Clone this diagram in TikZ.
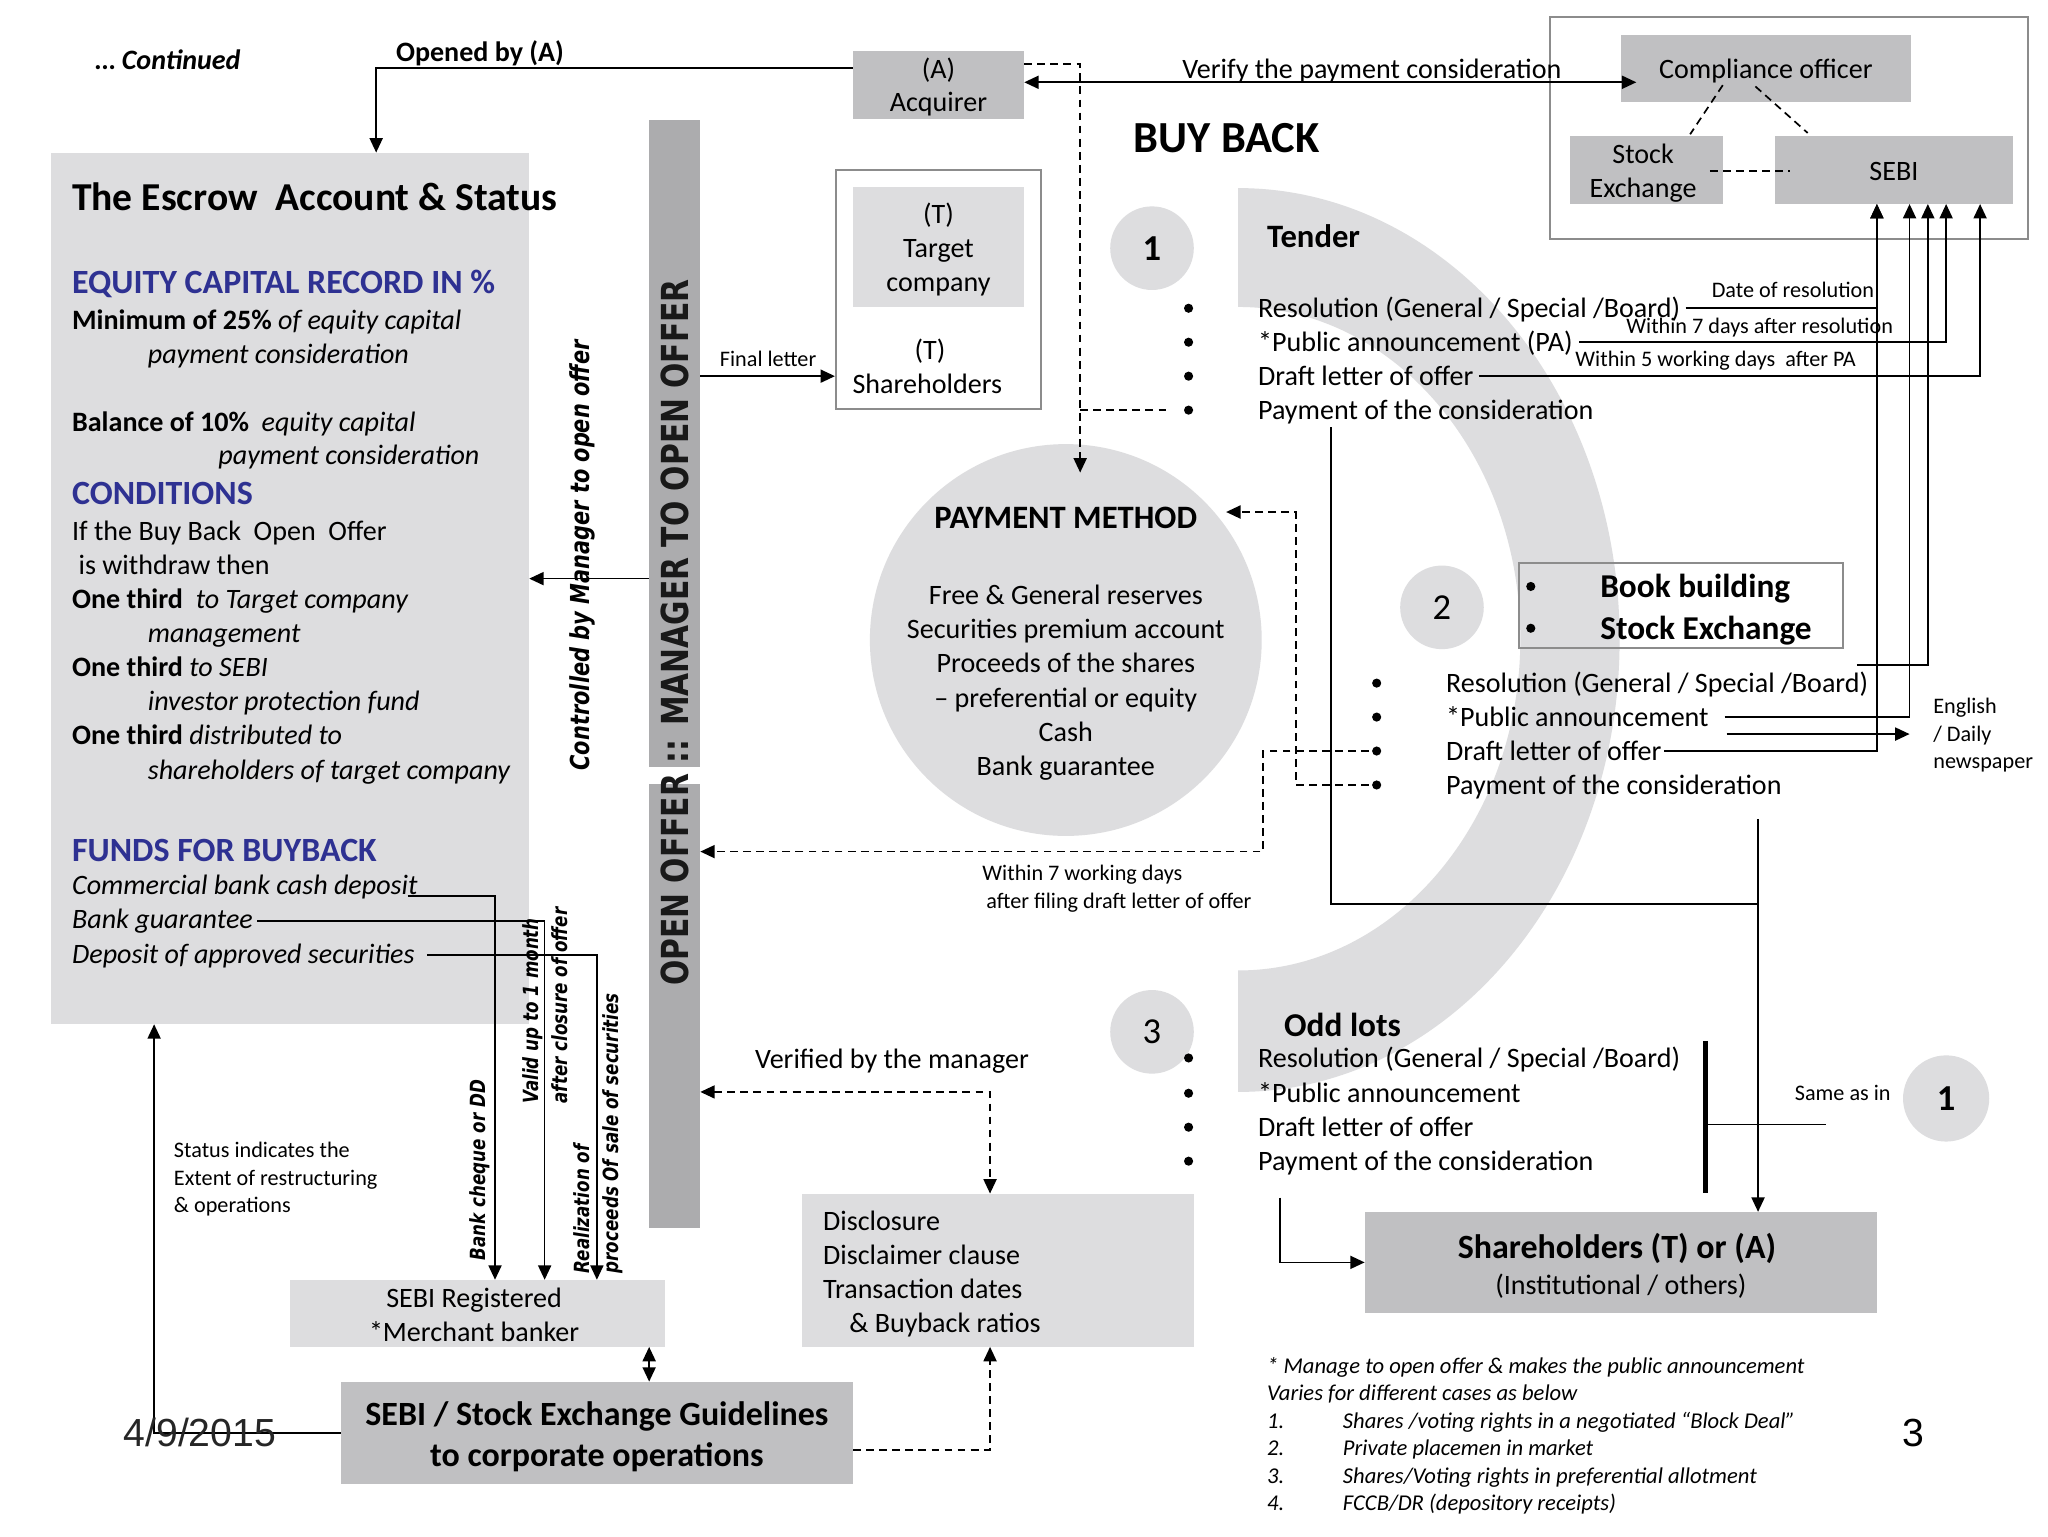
\documentclass[tikz,border=0pt]{standalone}
\usepackage{fontspec}
\setmainfont{Carlito}
\newfontfamily\dvs{DejaVu Sans}
\newfontfamily\lsans{Liberation Sans}
\usetikzlibrary{arrows.meta,calc}
\definecolor{lg}{RGB}{221,221,223}
\definecolor{mg}{RGB}{192,192,194}
\definecolor{bg}{RGB}{172,172,174}
\definecolor{hb}{RGB}{46,49,146}
\definecolor{bd}{RGB}{140,140,140}
\newcommand\fs[2]{\fontsize{#1}{#2}\selectfont}
\begin{document}
\begin{tikzpicture}[x=1pt,y=-1pt,
  >={Triangle[length=11pt,width=10pt]},
  tx/.style={anchor=base west,inner sep=0pt},
  tc/.style={anchor=base,inner sep=0pt},
  te/.style={anchor=base east,inner sep=0pt},
  bt/.style={font=\fs{21.5}{26}},
  sm/.style={font=\fs{17}{21}},
  hd/.style={font=\fs{26}{31}\bfseries,text=hb},
  ln/.style={line width=1.25pt},
  dsh/.style={line width=1.3pt,dash pattern=on 6pt off 4pt},
  bul/.style={circle,fill=black,inner sep=0pt,minimum size=7pt},
  numc/.style={circle,fill=lg,inner sep=0pt,minimum size=64pt,font=\fs{28}{34}},
  rbox/.style={inner sep=0pt},
  rot/.style={anchor=west,inner sep=0pt,rotate=90},
]
\useasboundingbox (0,0) rectangle (1568,1176);
\fill[white] (0,0) rectangle (1568,1176);

% ring
\fill[lg] (948,144) arc[start angle=90,end angle=-90,x radius=292pt,y radius=346pt]
  -- (948,743) arc[start angle=-90,end angle=90,x radius=216pt,y radius=254pt] -- cycle;

% boxes
\node[rbox,fill=lg,minimum width=366pt,minimum height=667pt] (esc) at (222,450.5) {};
\node[rbox,fill=bg,minimum width=39pt,minimum height=495pt] (bar1) at (516.5,339.5) {};
\node[rbox,fill=bg,minimum width=39pt,minimum height=340pt] (bar2) at (516.5,770) {};
\node[rbox,fill=mg,minimum width=131pt,minimum height=52pt] (acq) at (718.5,65) {};
\node[rbox,draw=bd,line width=1.5pt,fill=white,minimum width=157pt,minimum height=183pt] (tgt) at (718.5,221.5) {};
\node[rbox,fill=lg,minimum width=131pt,minimum height=92pt] (tgc) at (718.5,189) {};
\node[rbox,draw=bd,line width=1.5pt,minimum width=366pt,minimum height=170pt] (grp) at (1370,98) {};
\node[rbox,fill=mg,minimum width=222pt,minimum height=51pt] (comp) at (1352,52.5) {};
\node[rbox,fill=mg,minimum width=117pt,minimum height=52pt] (stex) at (1260.5,130) {};
\node[rbox,fill=mg,minimum width=182pt,minimum height=52pt] (sebi) at (1450,130) {};
\node[rbox,draw=bd,line width=1.5pt,minimum width=248pt,minimum height=65pt] (bbx) at (1287,463.5) {};
\node[circle,fill=lg,inner sep=0pt,minimum size=300pt] (pay) at (816,490) {};
\node[rbox,fill=mg,minimum width=392pt,minimum height=77pt] (sh) at (1241,966.5) {};
\node[rbox,fill=lg,minimum width=300pt,minimum height=117pt] (disc) at (764,972.5) {};
\node[rbox,fill=lg,minimum width=287pt,minimum height=51pt] (sreg) at (365.5,1005.5) {};
\node[rbox,fill=mg,minimum width=392pt,minimum height=78pt] (guide) at (457,1097) {};

% number circles
\node[numc,font=\fs{28}{34}\bfseries] (n1) at (882,190) {1};
\node[numc] (n2) at (1104,465) {2};
\node[numc] (n3) at (882,790) {3};
\node[numc,minimum size=66pt,font=\fs{28}{34}\bfseries] (n4) at (1490,841) {1};

% top-left
\node[tx,font=\fs{21.5}{26}\bfseries\itshape] (cont) at (73,53) {… Continued};
\node[tx,font=\fs{21.5}{26}\bfseries] (opened) at (303,47) {Opened by (A)};

% escrow texts
\node[tx,font=\fs{30.3}{36}\bfseries] (esct) at (55,161) {The Escrow\ \ Account \& Status};
\node[tx,hd] (eq) at (55,224.5) {EQUITY CAPITAL RECORD IN \%};
\node[tx,bt] (e1) at (55,252) {\textbf{Minimum of 25\%} \textit{of equity capital}};
\node[tx,bt] (e2) at (113,278) {\textit{payment consideration}};
\node[tx,bt] (e3) at (55,330) {\textbf{Balance of 10\%}\ \ \textit{equity capital}};
\node[tx,bt] (e4) at (167,356) {\textit{payment consideration}};
\node[tx,hd] (cond) at (55,386.5) {CONDITIONS};
\node[tx,bt] (e5) at (55,414) {If the Buy Back\ \ Open\ \ Offer};
\node[tx,bt] (e6) at (60,440) {is withdraw then};
\node[tx,bt] (e7) at (55,466) {\textbf{One third}\ \ \textit{to Target company}};
\node[tx,bt] (e8) at (113,492) {\textit{management}};
\node[tx,bt] (e9) at (55,518) {\textbf{One third} \textit{to SEBI}};
\node[tx,bt] (e10) at (113,544) {\textit{investor protection fund}};
\node[tx,bt] (e11) at (55,570) {\textbf{One third} \textit{distributed to}};
\node[tx,bt] (e12) at (113,597) {\textit{shareholders of target company}};
\node[tx,hd] (funds) at (55,659.5) {FUNDS FOR BUYBACK};
\node[tx,bt] (f1) at (55,685) {\textit{Commercial bank cash deposit}};
\node[tx,bt] (f2) at (55,711) {\textit{Bank guarantee}};
\node[tx,bt] (f3) at (55,738) {\textit{Deposit of approved securities}};

% rotated texts
\node[rot,font=\fs{28.5}{34}\dvs\bfseries,text=black!90] (oo) at (517,755) {\scalebox{0.8}[1]{OPEN OFFER :: MANAGER TO OPEN OFFER}};
\node[rot,font=\fs{20}{24}\dvs\bfseries\itshape] (ctrl) at (446,590) {\scalebox{0.8}[1]{Controlled by Manager to open offer}};
\node[rot,font=\fs{16}{22}\dvs\bfseries\itshape] (bcd) at (367,965) {\scalebox{0.8}[1]{Bank cheque or DD}};
\node[rot,font=\fs{16}{22}\dvs\bfseries\itshape] (val) at (419,845) {\scalebox{0.8}[1]{\begin{tabular}{@{}l@{}}Valid up to 1 month\\after closure of offer\end{tabular}}};
\node[rot,font=\fs{16}{22}\dvs\bfseries\itshape] (real) at (458,975) {\scalebox{0.8}[1]{\begin{tabular}{@{}l@{}}Realization of\\proceeds Of sale of securities\end{tabular}}};

% acquirer / target texts
\node[tc,bt] (acq1) at (718.5,60) {(A)};
\node[tc,bt] (acq2) at (718.5,85) {Acquirer};
\node[tc,bt] (tg1) at (718.5,171) {(T)};
\node[tc,bt] (tg2) at (718.5,197) {Target};
\node[tc,bt] (tg3) at (718.5,223) {company};
\node[tc,bt] (tg4) at (712,275) {(T)};
\node[tc,bt] (tg5) at (710,301) {Shareholders};
\node[tx,sm] (fll) at (551,280.5) {Final letter};

% compliance group texts
\node[tc,bt] (compt) at (1352,60) {Compliance officer};
\node[tc,bt] (st1) at (1258,125) {Stock};
\node[tc,bt] (st2) at (1258,151) {Exchange};
\node[tc,bt] (sebit) at (1450,138) {SEBI};
\node[tx,bt] (verify) at (905,60) {Verify the payment consideration};

% buy back
\node[tx,font=\fs{34}{40}\bfseries] (buyb) at (868,117) {BUY BACK};

% tender
\node[tx,font=\fs{25}{30}\bfseries] (tend) at (970,189.5) {Tender};
\node[bul] (tbd1) at (910,236) {};
\node[bul] (tbd2) at (910,262) {};
\node[bul] (tbd3) at (910,288) {};
\node[bul] (tbd4) at (910,314) {};
\node[tx,bt] (tr1) at (963,243) {Resolution (General / Special /Board)};
\node[tx,bt] (tr2) at (963,269) {*Public announcement (PA)};
\node[tx,bt] (tr3) at (963,295) {Draft letter of offer};
\node[tx,bt] (tr4) at (963,321) {Payment of the consideration};
\node[te,sm] (lab1) at (1435,227.5) {Date of resolution};
\node[tx,sm] (lab2) at (1245,255.5) {Within 7 days after resolution};
\node[tx,sm] (lab3) at (1206,280.5) {Within 5 working days\ \ after PA};

% book building
\node[bul] (bbb1) at (1172,449) {};
\node[bul] (bbb2) at (1172,481) {};
\node[tx,font=\fs{25.5}{30}\bfseries] (bk1) at (1225,457.5) {Book building};
\node[tx,font=\fs{25.5}{30}\bfseries] (bk2) at (1225,489.5) {Stock Exchange};
\node[bul] (bbd1) at (1054,523) {};
\node[bul] (bbd2) at (1054,549) {};
\node[bul] (bbd3) at (1054,575) {};
\node[bul] (bbd4) at (1054,601) {};
\node[tx,bt] (bb1) at (1107,530) {Resolution (General / Special /Board)};
\node[tx,bt] (bb2) at (1107,556) {*Public announcement};
\node[tx,bt] (bb3) at (1107,582) {Draft letter of offer};
\node[tx,bt] (bb4) at (1107,608) {Payment of the consideration};
\node[tx,sm] (news) at (1480,546.5) {English};
\node[tx,sm] (news2) at (1480,567.5) {/ Daily};
\node[tx,sm] (news3) at (1480,588.5) {newspaper};

% payment method
\node[tc,font=\fs{25}{30}\bfseries] (pmt) at (816,405) {PAYMENT METHOD};
\node[tc,bt] (pm1) at (816,463) {Free \& General reserves};
\node[tc,bt] (pm2) at (816,489) {Securities premium account};
\node[tc,bt] (pm3) at (816,515) {Proceeds of the shares};
\node[tc,bt] (pm4) at (816,542) {– preferential or equity};
\node[tc,bt] (pm5) at (816,568) {Cash};
\node[tc,bt] (pm6) at (816,594) {Bank guarantee};
\node[tx,sm] (w7a) at (752,674.5) {Within 7 working days};
\node[tx,sm] (w7b) at (755,695.5) {after filing draft letter of offer};

% odd lots
\node[tx,font=\fs{25.5}{30}\bfseries] (odd) at (983,793.5) {Odd lots};
\node[bul] (obd1) at (910,810) {};
\node[bul] (obd2) at (910,837) {};
\node[bul] (obd3) at (910,863) {};
\node[bul] (obd4) at (910,889) {};
\node[tx,bt] (od1) at (963,817) {Resolution (General / Special /Board)};
\node[tx,bt] (od2) at (963,844) {*Public announcement};
\node[tx,bt] (od3) at (963,870) {Draft letter of offer};
\node[tx,bt] (od4) at (963,896) {Payment of the consideration};
\node[tx,sm] (same) at (1374,842.5) {Same as in};

% shareholders
\node[tc,font=\fs{26}{31}\bfseries] (sht1) at (1238,963.5) {Shareholders (T) or (A)};
\node[tc,bt] (sht2) at (1241,991) {(Institutional / others)};

% disclosure
\node[tx,bt] (d1) at (630,942) {Disclosure};
\node[tx,bt] (d2) at (630,968) {Disclaimer clause};
\node[tx,bt] (d3) at (630,994) {Transaction dates};
\node[tx,bt] (d4) at (650,1020) {\& Buyback ratios};
\node[tx,bt] (vbm) at (578,818) {Verified by the manager};

% sebi registered / guidelines
\node[tc,bt] (sr1) at (363,1001) {SEBI Registered};
\node[tc,bt] (sr2) at (363,1027) {*Merchant banker};
\node[tc,font=\fs{26}{31}\bfseries] (gl1) at (457,1091.5) {SEBI / Stock Exchange Guidelines};
\node[tc,font=\fs{26}{31}\bfseries] (gl2) at (457,1122.5) {to corporate operations};
\node[tx,sm] (sta1) at (133,886.5) {Status indicates the};
\node[tx,sm] (sta2) at (133,907.5) {Extent of restructuring};
\node[tx,sm] (sta3) at (133,928.5) {\& operations};

% footnote
\node[tx,font=\fs{17.3}{21}\itshape] (fn1) at (970,1051.5) {* Manage to open offer \& makes the public announcement};
\node[tx,font=\fs{17.3}{21}\itshape] (fn2) at (970,1072.5) {Varies for different cases as below};
\node[tx,font=\fs{17.3}{21}\itshape] (fn3n) at (970,1093.5) {1.};
\node[tx,font=\fs{17.3}{21}\itshape] (fn3) at (1028,1093.5) {Shares /voting rights in a negotiated “Block Deal”};
\node[tx,font=\fs{17.3}{21}\itshape] (fn4n) at (970,1114.5) {2.};
\node[tx,font=\fs{17.3}{21}\itshape] (fn4) at (1028,1114.5) {Private placemen in market};
\node[tx,font=\fs{17.3}{21}\itshape] (fn5n) at (970,1135.5) {3.};
\node[tx,font=\fs{17.3}{21}\itshape] (fn5) at (1028,1135.5) {Shares/Voting rights in preferential allotment};
\node[tx,font=\fs{17.3}{21}\itshape] (fn6n) at (970,1156.5) {4.};
\node[tx,font=\fs{17.3}{21}\itshape] (fn6) at (1028,1156.5) {FCCB/DR (depository receipts)};

% ---------- connectors ----------
\draw[ln,->] ($(acq.west)+(0,-13)$) -| ($(esc.north)+(66,0)$);
\draw[ln,<->] ($(acq.east)+(0,-2)$) -- ($(comp.west)+(12,10.5)$);
\coordinate (dv) at (827,49);
\draw[dsh,->] (dv -| acq.east) -- (dv) -- ($(pay.north)+(11,22)$);
\draw[dsh] (dv |- tbd4) -- ($(tbd4)+(-17,0)$);
\coordinate (fl) at (536,288);
\draw[ln,->] (fl) -- (fl -| tgt.west);
\coordinate (ba) at (497,443);
\draw[ln,->] (ba) -- (ba -| esc.east);

% funds
\coordinate (fa1) at (312,686);
\coordinate (fa2) at (197,705);
\coordinate (fa3) at (327,731);
\draw[ln,->] (fa1) -| ($(sreg.north)+(13.5,0)$);
\draw[ln,->] (fa2) -| ($(sreg.north)+(51.5,0)$);
\draw[ln,->] (fa3) -| ($(sreg.north)+(91.5,0)$);

% compliance dashes
\draw[dsh] ($(comp.south)+(-33,-13)$) -- ($(stex.north)+(33.5,-1)$);
\draw[dsh] ($(comp.south)+(-8,-12)$) -- ($(sebi.north)+(-66,-2)$);
\draw[dsh] ($(stex.east)+(-10,1)$) -- ($(sebi.west)+(12,1)$);

% tender -> SEBI
\draw[ln,->] ($(tr1.base east)+(4,-7)$) -| ($(sebi.south)+(-13,0)$);
\draw[ln,->] ($(tr2.base east)+(5,-7)$) -| ($(sebi.south)+(40,0)$);
\draw[ln,->] ($(tr3.base east)+(4,-7)$) -| ($(sebi.south)+(66,0)$);
% book building -> SEBI
\draw[ln,->] ($(bb1.base east)+(-9,-21)$) -| ($(sebi.south)+(26,0)$);
\draw[ln,->] ($(bb2.base east)+(12,-7)$) -| ($(sebi.south)+(12,0)$);
\draw[ln,->] ($(bb3.base east)+(2,-7)$) -| ($(sebi.south)+(-13,0)$);
\coordinate (nps) at (1322,562);
\coordinate (npe) at (1462,562);
\draw[ln,->] (nps) -- (npe);

% dashed from book building bullets
\coordinate (dq) at (992,392);
\draw[dsh,->] ($(bbd4)+(-6,0)$) -| (dq) -- ($(pmt.base east)+(22,-13)$);
\coordinate (dr) at (967,652);
\draw[dsh,->] ($(bbd3)+(-6,0)$) -| (dr) -- (dr -| bar2.east);

% payment -> shareholders
\coordinate (p1) at (1019,327);
\coordinate (p2) at (1346,692);
\draw[ln] (p1) |- (p2);
\coordinate (v1) at (1346,627);
\draw[ln,->] (v1) -- (v1 |- sh.north);
\coordinate (tk1) at (1306,797);
\coordinate (tk2) at (1306,913);
\draw[line width=4pt] (tk1) -- (tk2);
\coordinate (sa) at (1398,861);
\draw[ln] (tk1 |- sa) -- (sa);
\coordinate (o1) at (980,917);
\draw[ln,->] (o1) |- (sh.west);

% verified / disclosure / guidelines
\coordinate (vm) at (758,836);
\draw[dsh,<->] (vm -| bar2.east) -- (vm) -- (vm |- disc.north);
\coordinate (gd) at (758,1110);
\draw[dsh,->] (gd -| guide.east) -- (gd) -- (gd |- disc.south);
\coordinate (mg) at (497,1031);
\draw[dsh,<->] (mg |- sreg.south) -- (mg |- guide.north);
\coordinate (ge) at (118,1097);
\draw[ln,->] (ge -| guide.west) -- (ge) -- (ge |- esc.south);

% date / page
\node[font=\fs{30}{36}\lsans,text=black!85,inner sep=0pt] (date) at (153,1097) {4/9/2015};
\node[font=\fs{30}{36}\lsans,inner sep=0pt] (pg) at (1465,1097) {3};
\end{tikzpicture}
\end{document}
